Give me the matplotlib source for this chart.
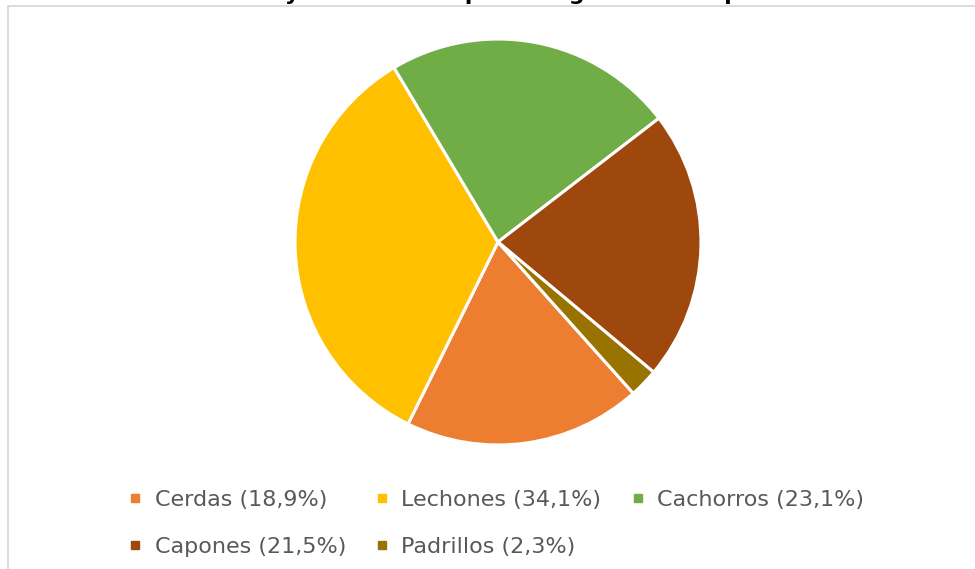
import matplotlib.pyplot as plt
from matplotlib.lines import Line2D
from matplotlib.patches import Rectangle

# datos del grafico
categorias = ["Cerdas", "Lechones", "Cachorros", "Capones", "Padrillos"]
porcentajes = [18.9, 34.1, 23.1, 21.5, 2.3]
colores = ["#ED7D31", "#FFC000", "#70AD47", "#9E480E", "#997300"]
titulo = "Existencias y distribución por categoría de los porcinos"

W, H = 975, 569
fig = plt.figure(figsize=(W / 100, H / 100), dpi=100)

# marco del area del grafico
fig.patches.append(Rectangle((7.5 / W, -0.1), 1.2, 1 - 6.5 / H + 0.1,
                             transform=fig.transFigure, fill=False,
                             edgecolor="#D9D9D9", linewidth=1.3))

# titulo (cortado por arriba en el original)
fig.text(484 / W, 1.0, titulo, ha="center", va="baseline",
         fontsize=16, fontweight="bold", color="black")

# torta
cx, cy, r = 498, 242, 205
ax = fig.add_axes([(cx - r) / W, (H - cy - r) / H, 2 * r / W, 2 * r / H])
ax.pie(porcentajes, colors=colores, startangle=-48.2, counterclock=False,
       wedgeprops=dict(edgecolor="white", linewidth=2.2))
ax.set_xlim(-1.01, 1.01)
ax.set_ylim(-1.01, 1.01)
ax.set_aspect("auto")
ax.axis("off")

# leyenda en filas (orden por columnas para matplotlib)
etiquetas = [f"{c} ({str(p).replace('.', ',')}%)" for c, p in zip(categorias, porcentajes)]
handles = [Line2D([], [], linestyle="none", marker="s", markersize=5.5,
                  markerfacecolor=col, markeredgecolor=col) for col in colores]
orden = [0, 3, 1, 4, 2]
leg = fig.legend([handles[i] for i in orden], [etiquetas[i] for i in orden],
                 ncol=3, loc="upper left", bbox_to_anchor=(129 / W, 1 - 490 / H),
                 frameon=False, fontsize=16, handlelength=0.55, handletextpad=0.6,
                 columnspacing=1.35, labelspacing=1.2, borderpad=0, borderaxespad=0)
for t in leg.get_texts():
    t.set_color("#595959")

fig.savefig("out.png", dpi=100)
